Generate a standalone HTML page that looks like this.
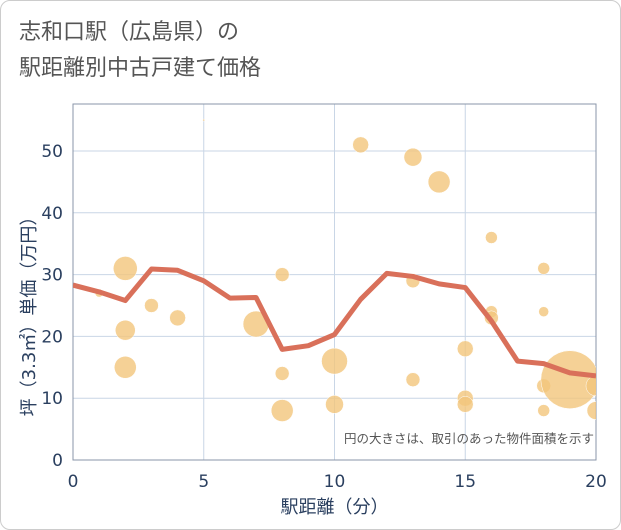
<!DOCTYPE html>
<html><head><meta charset="utf-8"><style>
html,body{margin:0;padding:0;background:#fff;}
#wrap{position:relative;width:619px;height:528px;border:1px solid #ccc;border-radius:10px;overflow:hidden;background:#fff;font-family:"Liberation Sans","Noto Sans CJK JP",sans-serif;}
.title{position:absolute;left:18px;color:#555;font-size:22px;line-height:30px;}
</style></head><body>
<div id="wrap">
<div class="title" style="top:16px">志和口駅（広島県）の</div>
<div class="title" style="top:52px">駅距離別中古戸建て価格</div>
<svg id="chart" width="621" height="530" style="position:absolute;left:-1px;top:-1px"></svg>
</div>
<script>
const lineX=[0,1,2,3,4,5,6,7,8,9,10,11,12,13,14,15,16,17,18,19,20];
const lineY=[28.3,27.2,25.8,30.9,30.7,29,26.2,26.3,17.9,18.5,20.3,26,30.2,29.7,28.5,27.9,22.5,16,15.6,14.1,13.6];
const bubX=[1,2,2,2,3,4,5,7,8,8,8,10,10,11,13,13,13,14,15,15,15,16,16,16,18,18,18,18,19,20,20];
const bubY=[27,31,21,15,25,23,55,22,30,14,8,16,9,51,49,29,13,45,18,10,9,36,24,23,31,24,12,8,13,12,8];
const bubR=[4,12,10,11,7,8,1,13,7,7,11,13,9,8,9,7,7,11,8,8,8,6,6,7,6,5,7,6,29,10,9];
const xTicks=[0,5,10,15,20];
const yTicks=[0,10,20,30,40,50];
const NS="http://www.w3.org/2000/svg";
const svg=document.getElementById('chart');
const L=73,R=596,B=460,T=104;
const xs=v=>L+(R-L)*v/20;
const ys=v=>B-(151-460)/-50*v;
function mk(t,a,p){const e=document.createElementNS(NS,t);for(const k in a)e.setAttribute(k,a[k]);(p||svg).appendChild(e);return e;}
const clip=mk('clipPath',{id:'pc'});mk('rect',{x:L,y:T,width:R-L,height:B-T},clip);
xTicks.forEach(v=>{
const g=mk('line',{x1:xs(v),x2:xs(v),y1:T,y2:B,stroke:'#c9d6e6','stroke-width':1});


const t=mk('text',{x:xs(v),y:B+27,'text-anchor':'middle','font-size':17,fill:'#2a3f5f','font-family':'DejaVu Sans, sans-serif'});t.textContent=v;


});
yTicks.forEach(v=>{
const g=mk('line',{x1:L,x2:R,y1:ys(v),y2:ys(v),stroke:'#c9d6e6','stroke-width':1});


const t=mk('text',{x:L-10,y:ys(v)+6,'text-anchor':'end','font-size':17,fill:'#2a3f5f','font-family':'DejaVu Sans, sans-serif'});t.textContent=v;


});
const frame=mk('rect',{x:L,y:T,width:R-L,height:B-T,fill:'none',stroke:'#8a96a8','stroke-width':1});


const bg=mk('g',{'clip-path':'url(#pc)'});
bubX.forEach((x,i)=>{
const c=mk('circle',{cx:xs(x),cy:ys(bubY[i]),r:bubR[i],fill:'#f2c57c','fill-opacity':0.8,stroke:'#fff','stroke-width':0.5},bg);


});
const p=mk('polyline',{points:lineX.map((x,i)=>xs(x)+','+ys(lineY[i])).join(' '),fill:'none',stroke:'#d9705a','stroke-width':5,'stroke-linejoin':'round','clip-path':'url(#pc)'});


const n=mk('text',{x:R-2,y:B-17,'text-anchor':'end','font-size':12.5,fill:'#555','font-family':'Liberation Sans, Noto Sans CJK JP, sans-serif'});n.textContent='円の大きさは、取引のあった物件面積を示す';


const xt=mk('text',{x:(L+R)/2,y:513,'text-anchor':'middle','font-size':18,fill:'#2a3f5f','font-family':'DejaVu Sans, Noto Sans CJK JP, sans-serif'});xt.textContent='駅距離（分）';


const yt=mk('text',{x:0,y:0,'text-anchor':'middle','font-size':18,fill:'#2a3f5f','font-family':'DejaVu Sans, Noto Sans CJK JP, sans-serif',transform:'translate(35,'+((T+B)/2+30)+') rotate(-90)'});yt.textContent='坪（3.3㎡）単価（万円）';


</script>
</body></html>
